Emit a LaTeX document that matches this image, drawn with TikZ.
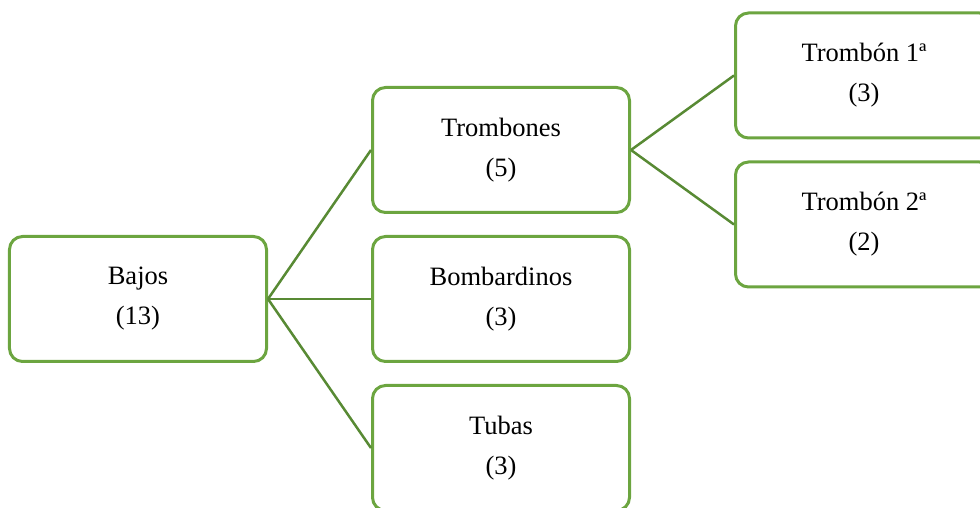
\documentclass[tikz,border=0pt]{standalone}
\usepackage{fontspec}
\setmainfont{Liberation Serif}
\usetikzlibrary{positioning}

\definecolor{boxgreen}{RGB}{108,165,64}
\definecolor{edgegreen}{RGB}{88,138,52}

\begin{document}
\begin{tikzpicture}[
    node distance=21pt and 103pt,
    block/.style={rectangle, draw=boxgreen, line width=3pt, rounded corners=13pt,
                  minimum width=257pt, minimum height=125pt, align=center,
                  font=\fontsize{26.5}{40}\selectfont},
    line/.style={draw=edgegreen, line width=2.5pt}
]
    % Page size
    \clip (-138pt,299pt) rectangle (842pt,-209pt);

    % Place nodes
    \node [block]                       (bajos)       {Bajos\\(13)};
    \node [block, right=of bajos]       (bombardinos) {Bombardinos\\(3)};
    \node [block, above=of bombardinos] (trombones)   {Trombones\\(5)};
    \node [block, below=of bombardinos] (tubas)       {Tubas\\(3)};

    \node [block, right=of trombones, yshift=74.5pt] (trombon1) {Trombón 1ª\\(3)};
    \node [block, below=of trombon1]                 (trombon2) {Trombón 2ª\\(2)};

    % Draw edges
    \path [line] (bajos.east) -- (trombones.west);
    \path [line] (bajos.east) -- (bombardinos.west);
    \path [line] (bajos.east) -- (tubas.west);
    \path [line] (trombones.east) -- (trombon1.west);
    \path [line] (trombones.east) -- (trombon2.west);
\end{tikzpicture}
\end{document}
